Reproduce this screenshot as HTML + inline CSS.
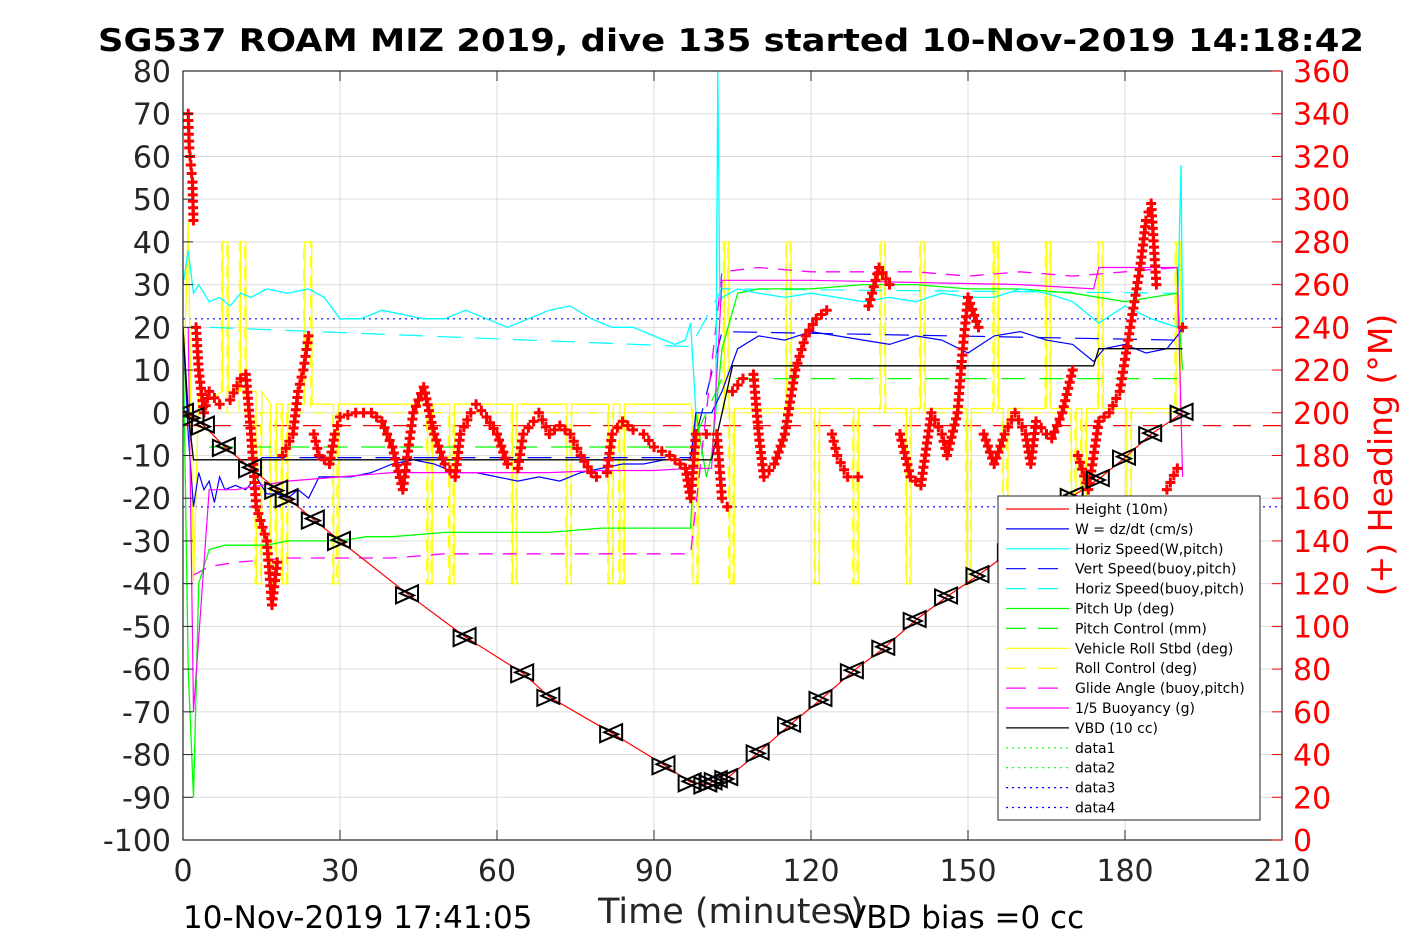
<!DOCTYPE html>
<html><head><meta charset="utf-8"><style>
html,body{margin:0;padding:0;background:#fff;}
svg{display:block;font-family:"DejaVu Sans","Liberation Sans",sans-serif;}
</style></head><body>
<svg id="chart" width="1417" height="945" viewBox="0 0 1417 945"></svg>
<script>
// ---- data arrays (left-axis units unless noted) ----
const xTicks=[0,30,60,90,120,150,180,210];
const yTicks=[80,70,60,50,40,30,20,10,0,-10,-20,-30,-40,-50,-60,-70,-80,-90,-100];
const hTicks=[360,340,320,300,280,260,240,220,200,180,160,140,120,100,80,60,40,20,0];
const depthT=[0,2,4,8,13,18,20,25,30,43,54,65,70,82,92,97,100,101,102,104,110,116,122,128,134,140,146,152,158,170,175,180,185,191];
const depthV=[0,-1,-3,-8,-13,-18,-20,-25,-30,-42.5,-52.5,-61,-66.5,-75,-82.5,-86.5,-87,-86.5,-86,-85.5,-79.5,-73,-67,-60.5,-55,-48.5,-43,-38,-32.5,-19.5,-15.5,-10.5,-5,0];
const wT=[0,1,2,3,4,5,6,7,8,10,12,14,16,18,20,22,24,26,28,32,36,40,44,48,52,56,60,64,68,72,76,80,84,88,92,95,97,98,100,101,103,106,110,115,120,125,130,135,140,145,150,155,160,165,170,174,176,180,184,188,190,191];
const wV=[20,-5,-22,-14,-18,-16,-21,-15,-18,-17,-18,-15,-19,-19,-20,-18,-20,-15,-15,-15,-14,-12,-11,-12,-14,-14,-15,-16,-15,-16,-14,-13,-12,-12,-11,-11,-11,0,0,0,5,15,18,17,19,18,17,16,18,17,14,18,19,17,16,12,15,16,14,15,18,20];
const hsT=[0,1,2,3,5,7,9,11,13,16,20,24,27,30,34,38,42,46,50,54,58,62,66,70,74,78,82,86,90,94,96,97,98,100,101.8,102.2,102.6,103,106,110,115,120,125,130,135,140,145,150,155,160,165,170,172,175,180,185,190,190.7,191];
const hsV=[30,38,28,30,26,27,25,28,27,29,28,29,27,22,22,24,23,22,22,24,22,20,22,24,25,22,20,20,18,16,17,21,0,0,0,85,25,27,29,28,27,28,27,26,27,26,28,27,27,29,28,26,24,21,25,22,20,58,20];
const vbT=[15,97,103,190];
const vbV=[-10.5,-10.5,19,17];
const hbT=[5,97,103,190];
const hbV=[20,15.5,29,28];
const puT=[0,1,2,3,5,8,12,16,20,25,30,35,40,50,60,70,80,90,97,98,100,101,103,106,110,120,130,140,150,160,170,180,185,190,191];
const puV=[20,-60,-90,-40,-32,-31,-31,-31,-30,-30,-30,-29,-29,-28,-28,-28,-27,-27,-27,0,-15,-10,15,28,29,29,30,30,29,29,28,26,27,28,10];
const pcT=[5,97,103,190];
const pcV=[-8,-8,8,8];
// roll: baseline segments + rectangular pulses
const rollBaseT=[0,1,2,3,5,15,18,30,97,98,101,103,190,191];
const rollBaseV=[0,45,-40,4,3,5,2,2,2,0,0,0,1,0];
const pulseStart=[7.6,11,14,16.8,19,23.3,28.8,46.8,51,63,73.4,81.4,83.5,97.5,103.5,104.5,115.4,120.8,128.2,133.4,138.3,141,149.8,155,156.8,165,169.8,171.8,175,180.4,189.8];
const pulseEnd=[8.6,12,15,17.8,20,24.6,29.6,47.6,51.8,63.8,74.2,82.2,84.3,98.4,104.3,105.3,116.2,121.6,129,134.2,139.1,141.8,150.6,155.8,157.6,165.8,170.6,172.6,175.8,181.2,190.6];
const pulseVal=[40,40,-40,-40,-40,40,-40,-40,-40,-40,-40,-40,-40,-40,40,-40,40,-40,-40,40,-40,40,-40,40,-40,40,-40,-40,40,-40,40];
const gaT=[2,5,10,20,30,40,50,60,70,80,90,97,103,110,120,130,140,150,160,170,180,190];
const gaV=[-38,-36,-35,-34,-34,-34,-33,-33,-33,-33,-33,-33,33,34,33,33,33,32,33,32,33,34];
const buT=[1,2,5,10,15,20,30,40,50,60,70,80,90,97,98,101,103,110,120,140,160,174,175,180,190,191];
const buV=[20,-70,-18,-18,-17,-16,-15,-14,-14,-14,-14,-13.5,-13.5,-13,-13,-13,31,31,31,30.5,30,29,34,34,34,-15];
const vbdT=[0,1,2,97,101,105,174,175,191];
const vbdV=[20,0,-11,-11,-11,11,11,15,15];
const headT=[1,1.2,1.5,1.8,2,2.5,3,4,5,7,9,11,12,13,14,16,17,18,19,21,22,23,24,25,26,28,29,30,33,36,38,40,42,44,46,48,50,52,53,55,56,58,60,62,64,65,67,68,70,72,74,76,78,79,81,82,84,86,88,90,93,95,96,97,98,100,102,103,104,105,107,109,110,111,113,115,117,119,121,123,124,125,127,129,131,133,135,137,139,141,143,145,146,148,149,150,152,153,155,157,159,161,162,163,165,166,168,170,171,173,175,177,179,181,183,184,185,186,188,190,191];
const headV=[340,324,316,308,290,240,220,200,210,204,206,216,218,190,156,140,110,130,180,190,210,220,236,190,180,176,190,198,200,200,196,184,164,200,212,190,176,170,190,200,204,198,190,176,174,190,196,200,190,194,190,180,172,170,172,190,196,192,190,184,180,176,174,160,190,190,190,160,156,210,216,218,190,170,176,190,220,236,244,248,190,180,170,170,250,268,260,190,170,166,200,190,180,200,230,254,240,190,176,190,200,190,176,196,190,188,200,220,180,164,196,200,210,240,270,290,298,260,164,174,240];
const dotT=[0,210];
const blueDotUp=[22,22];
const blueDotDn=[-22,-22];
const redDash=[-3,-3];
// ---- scales ----
const X0=183,X1=1282,Y0=71,Y1=840;
const xs=t=>X0+t*(X1-X0)/210;
const ys=v=>Y0+(80-v)*(Y1-Y0)/180;
const yh=h=>Y1-h*(Y1-Y0)/360;
const svg=document.getElementById('chart');
const NS='http://www.w3.org/2000/svg';
function mk(tag,attrs,parent){const e=document.createElementNS(NS,tag);for(const k in attrs)e.setAttribute(k,attrs[k]);(parent||svg).appendChild(e);return e;}
function clampV(v){return Math.max(-100,Math.min(80,v));}
function pts(T,V){return T.map((t,i)=>xs(t).toFixed(1)+','+ys(clampV(V[i])).toFixed(1)).join(' ');}
// grid
const grid=mk('g',{});


xTicks.forEach(t=>mk('line',{x1:xs(t),x2:xs(t),y1:Y0,y2:Y1,stroke:'#dcdcdc','stroke-width':1},grid));
yTicks.forEach(v=>mk('line',{x1:X0,x2:X1,y1:ys(v),y2:ys(v),stroke:'#dcdcdc','stroke-width':1},grid));
const clip=mk('clipPath',{id:'pc'});mk('rect',{x:X0,y:Y0,width:X1-X0,height:Y1-Y0},clip);
const plot=mk('g',{'clip-path':'url(#pc)'});


function line(name,T,V,color,dash,w){const p=mk('polyline',{points:pts(T,V),fill:'none',stroke:color,'stroke-width':w||1.2,'stroke-dasharray':dash||'none'},plot);

return p;}
line('data3-line',dotT,blueDotUp,'#0000ff','2,4',1.2);
line('data4-line',dotT,blueDotDn,'#0000ff','2,4',1.2);
line('ref-dashed-line',dotT,redDash,'#ff0000','18,12',1.2);
function baseAt(t){for(let i=1;i<rollBaseT.length;i++){if(t<=rollBaseT[i])return rollBaseV[i];}return rollBaseV[rollBaseV.length-1];}
const rT=[],rV=[];let pi=0;
for(let i=0;i<rollBaseT.length;i++){
  while(pi<pulseStart.length&&pulseStart[pi]<rollBaseT[i]){
    const b=baseAt(pulseStart[pi]);
    rT.push(pulseStart[pi]-0.05,pulseStart[pi],pulseEnd[pi],pulseEnd[pi]+0.05);
    rV.push(b,pulseVal[pi],pulseVal[pi],b);pi++;}
  rT.push(rollBaseT[i]);rV.push(rollBaseV[i]);
}
const rcT=[],rcV=[];
pulseStart.forEach((s,i)=>{rcT.push(s-0.3,s-0.25,pulseEnd[i]-0.25,pulseEnd[i]-0.2);rcV.push(0,pulseVal[i],pulseVal[i],0);});
line('roll-control-line',rcT,rcV,'#ffff00','12,8',1);
line('vehicle-roll-line',rT,rV,'#ffff00',null,1.3);
line('horiz-speed-buoy-line',hbT,hbV,'#00ffff','24,14',1.2);
line('vert-speed-buoy-line',vbT,vbV,'#0000ff','24,14',1.2);
line('pitch-control-line',pcT,pcV,'#00ff00','24,14',1.2);
line('glide-angle-line',gaT,gaV,'#ff00ff','14,10',1.3);
line('pitch-up-line',puT,puV,'#00ff00',null,1.3);
line('horiz-speed-line',hsT,hsV,'#00ffff',null,1.3);
line('w-line',wT,wV,'#0000ff',null,1.2);
line('buoyancy-line',buT,buV,'#ff00ff',null,1.2);
line('vbd-line',vbdT,vbdV,'#000000',null,1.3);
line('depth-line',depthT,depthV,'#ff0000',null,1.2);
// heading markers
const hg=mk('g',{stroke:'#ff0000','stroke-width':3,fill:'none'},plot);


headT.forEach((t,i)=>{const x=xs(t),y=yh(headV[i]);const p=mk('path',{d:`M${x-5},${y}H${x+5}M${x},${y-5}V${y+5}`},hg);


if(i>0){const x0=xs(headT[i-1]),y0=yh(headV[i-1]);const n=Math.floor(Math.hypot(x-x0,y-y0)/6);
if(Math.abs(headV[i]-headV[i-1])<40){for(let k=1;k<n;k++){const xx=x0+(x-x0)*k/n,yy=y0+(y-y0)*k/n;mk('path',{d:`M${xx-5},${yy}H${xx+5}M${xx},${yy-5}V${yy+5}`},hg);}}}
});
// depth triangle markers
const tg=mk('g',{stroke:'#000',fill:'none','stroke-width':2},plot);


depthT.forEach((t,i)=>{const x=xs(t),y=ys(depthV[i]);
mk('path',{d:`M${x-12},${y-7}L${x+6},${y+1}L${x-12},${y+9}Z`},tg);
mk('path',{d:`M${x+10},${y-9}L${x-8},${y-1}L${x+10},${y+7}Z`},tg);});
// frame
const fr=mk('rect',{x:X0,y:Y0,width:X1-X0,height:Y1-Y0,fill:'none',stroke:'#262626','stroke-width':1.2});


// ticks & labels
xTicks.forEach(t=>{mk('line',{x1:xs(t),x2:xs(t),y1:Y1,y2:Y1-10,stroke:'#262626'});mk('line',{x1:xs(t),x2:xs(t),y1:Y0,y2:Y0+10,stroke:'#262626'});
const tx=mk('text',{x:xs(t),y:881,'font-size':30,'text-anchor':'middle',fill:'#262626'});tx.textContent=t;

});
yTicks.forEach(v=>{mk('line',{x1:X0,x2:X0+10,y1:ys(v),y2:ys(v),stroke:'#262626'});
const tx=mk('text',{x:171,y:ys(v)+11,'font-size':30,'text-anchor':'end',fill:'#262626'});tx.textContent=v;

});
hTicks.forEach(h=>{mk('line',{x1:X1,x2:X1-10,y1:yh(h),y2:yh(h),stroke:'#ff0000'});
const tx=mk('text',{x:1293,y:yh(h)+11,'font-size':30,fill:'#ff0000'});tx.textContent=h;

});
function txt(name,s,attrs){const t=mk('text',attrs);t.textContent=s;

return t;}
txt('chart-title','SG537 ROAM MIZ 2019, dive 135 started 10-Nov-2019 14:18:42',{x:731,y:51,'font-size':31,'font-weight':'bold','text-anchor':'middle',fill:'#000',textLength:1266,lengthAdjust:'spacingAndGlyphs'});
txt('x-axis-title','Time (minutes)',{x:731,y:923,'font-size':35,'text-anchor':'middle',fill:'#262626'});
txt('end-time-label','10-Nov-2019 17:41:05',{x:183,y:928,'font-size':31,fill:'#000'});
txt('vbd-bias-label','VBD bias =0 cc',{x:845,y:928,'font-size':31,fill:'#000'});
txt('heading-axis-title','(+) Heading (°M)',{x:1392,y:455,'font-size':33,'text-anchor':'middle',fill:'#ff0000',transform:'rotate(-90 1392 455)'});
// legend
const names=['Height (10m)','W = dz/dt (cm/s)','Horiz Speed(W,pitch)','Vert Speed(buoy,pitch)','Horiz Speed(buoy,pitch)','Pitch Up (deg)','Pitch Control (mm)','Vehicle Roll Stbd (deg)','Roll Control (deg)','Glide Angle (buoy,pitch)','1/5 Buoyancy (g)','VBD (10 cc)','data1','data2','data3','data4'];
const cols=['#ff0000','#0000ff','#00ffff','#0000ff','#00ffff','#00ff00','#00ff00','#ffff00','#ffff00','#ff00ff','#ff00ff','#000000','#00ff00','#00ff00','#0000ff','#0000ff'];
const dashes=['none','none','none','20,12','20,12','none','20,12','none','20,12','20,12','none','none','2,4','2,4','2,4','2,4'];
const lg=mk('g',{});


mk('rect',{x:998,y:496,width:262,height:324,fill:'#fff',stroke:'#262626','stroke-width':1},lg);
names.forEach((n,i)=>{const y=509+i*19.9;
mk('line',{x1:1006,x2:1069,y1:y,y2:y,stroke:cols[i],'stroke-width':1.2,'stroke-dasharray':dashes[i]},lg);
const t=mk('text',{x:1075,y:y+5,'font-size':14,fill:'#000'},lg);t.textContent=n;

});
</script>
</body></html>
